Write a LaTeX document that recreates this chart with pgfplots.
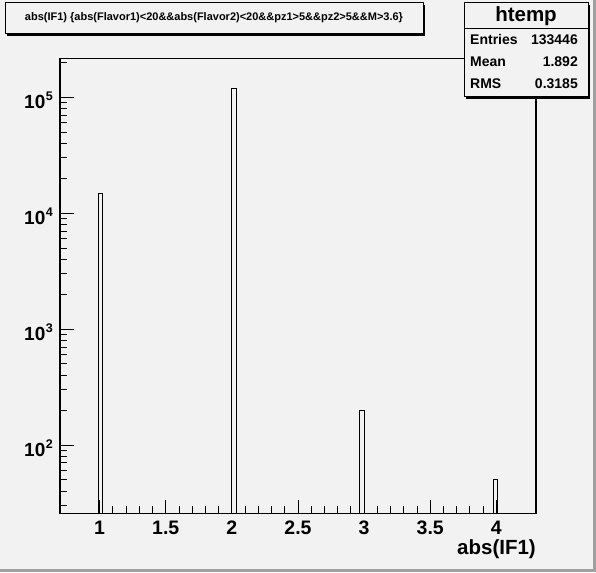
\documentclass[border=0pt]{standalone}
\usepackage{fontspec}
\setmainfont{Liberation Sans}
\usepackage{pgfplots}
\pgfplotsset{compat=1.18}
\definecolor{canvas}{HTML}{F2F2F2}
\definecolor{bevel}{HTML}{A0A0A0}
\newcommand{\ylab}[1]{\fontsize{19}{19}\selectfont\bfseries 10\hspace{0.5pt}\raisebox{8pt}{\fontsize{12.5}{12.5}\selectfont\bfseries #1}}
\begin{document}
\begin{tikzpicture}
\fill[canvas] (0pt,0pt) rectangle (596pt,572pt);
\fill[bevel] (0pt,0pt) rectangle (596pt,3.5pt);
\fill[bevel] (592.5pt,0pt) rectangle (596pt,572pt);
\begin{axis}[
  at={(60pt,58.7pt)}, anchor=south west,
  scale only axis, width=476pt, height=455pt,
  ymode=log, xmin=0.7, xmax=4.3, ymin=25.75, ymax=2.17e5,
  axis background/.style={fill=canvas},
  axis on top,
  clip=true,
  tick pos=left,
  tick align=inside,
  xtick={1,1.5,2,2.5,3,3.5,4},
  minor x tick num=4,
  ytick={100,1000,10000,100000},
  yticklabels={\ylab{2},\ylab{3},\ylab{4},\ylab{5}},
  minor ytick={30,40,50,60,70,80,90,200,300,400,500,600,700,800,900,2000,3000,4000,5000,6000,7000,8000,9000,20000,30000,40000,50000,60000,70000,80000,90000,200000},
  major tick length=13.5pt,
  minor tick length=7pt,
  every tick/.style={black, line width=1pt},
  axis line style={line width=1.2pt},
  /pgf/number format/assume math mode=true,
  xticklabel style={font=\fontsize{19.5}{20}\selectfont\bfseries, inner sep=0pt, anchor=north, yshift=-7.7pt},
  yticklabel style={anchor=base east, inner sep=0pt, xshift=-7pt, yshift=-11.4pt},
  xlabel={abs(IF1)},
  xlabel style={font=\fontsize{20.5}{21}\selectfont\bfseries, at={(axis description cs:1,0)}, anchor=base east, inner sep=0pt, yshift=-41.7pt},
]
\addplot[ybar, bar width=0.036, draw=black, fill=none, line width=1pt] coordinates {(1.006,14712) (2.014,118484) (2.986,200) (3.994,50)};
\end{axis}
% title box
\fill[black] (7pt,536pt) rectangle (425pt,567.3pt);
\draw[fill=canvas, line width=1pt] (5pt,538pt) rectangle (423pt,569.3pt);
\node[font=\fontsize{11}{13}\selectfont\bfseries, inner sep=0pt] at (214pt,554pt) {abs(IF1) \{abs(Flavor1)<20\&\&abs(Flavor2)<20\&\&pz1>5\&\&pz2>5\&\&M>3.6\}};
% stats box
\fill[black] (466pt,473pt) rectangle (590pt,567pt);
\draw[fill=canvas, line width=1pt] (464pt,475pt) rectangle (588pt,569pt);
\draw[line width=1pt] (464pt,543pt) -- (588pt,543pt);
\node[font=\fontsize{20.5}{21}\selectfont\bfseries, anchor=base, inner sep=0pt] at (526pt,550.3pt) {htemp};
\node[font=\fontsize{14}{15}\selectfont\bfseries, anchor=base west, inner sep=0pt] at (470pt,527pt) {Entries};
\node[font=\fontsize{14}{15}\selectfont\bfseries, anchor=base east, inner sep=0pt] at (578pt,527pt) {133446};
\node[font=\fontsize{14}{15}\selectfont\bfseries, anchor=base west, inner sep=0pt] at (470pt,505.3pt) {Mean};
\node[font=\fontsize{14}{15}\selectfont\bfseries, anchor=base east, inner sep=0pt] at (578pt,505.3pt) {1.892};
\node[font=\fontsize{14}{15}\selectfont\bfseries, anchor=base west, inner sep=0pt] at (470pt,483.7pt) {RMS};
\node[font=\fontsize{14}{15}\selectfont\bfseries, anchor=base east, inner sep=0pt] at (578pt,483.7pt) {0.3185};
\pgfresetboundingbox
\path[use as bounding box] (0pt,0pt) rectangle (596pt,572pt);
\end{tikzpicture}
\end{document}
